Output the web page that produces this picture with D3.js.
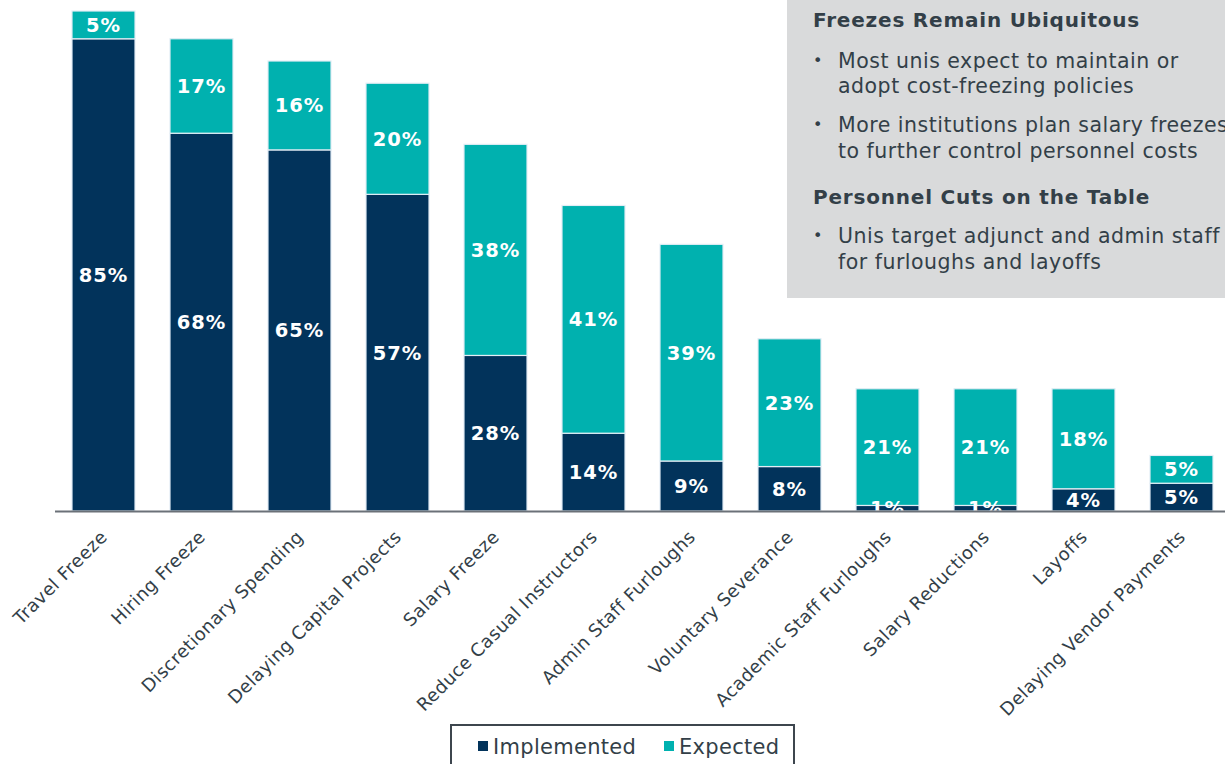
<!DOCTYPE html>
<html lang="en">
<head>
    <meta charset="UTF-8" />
    <title>Cost Cutting Measures</title>
    <style>
        html, body { margin: 0; padding: 0; background: #fff; }
        svg { display: block; font-family: "DejaVu Sans", Verdana, sans-serif; }
    </style>
</head>
<body>
    <div id="container"></div>
</body>
<script src="https://cdnjs.cloudflare.com/ajax/libs/d3/7.8.5/d3.min.js"></script>
<script>
    // data
    let categories = ["Travel Freeze", "Hiring Freeze", "Discretionary Spending", "Delaying Capital Projects",
        "Salary Freeze", "Reduce Casual Instructors", "Admin Staff Furloughs", "Voluntary Severance",
        "Academic Staff Furloughs", "Salary Reductions", "Layoffs", "Delaying Vendor Payments"],
        implemented = [85, 68, 65, 57, 28, 14, 9, 8, 1, 1, 4, 5],
        expected = [5, 17, 16, 20, 38, 41, 39, 23, 21, 21, 18, 5],
        seriesNames = ["Implemented", "Expected"];

    let W = 1225, H = 764,
        base = 511,
        navy = "#02335b", teal = "#00b1af", ink = "#333f48";

    let svg = d3.select("#container").append("svg").attr("width", W).attr("height", H)

    let x = d3.scaleBand().domain(categories).range([54.5, 54.5 + 98 * 12])
        .paddingInner(0.357).paddingOuter(0.1785)
    let y = d3.scaleLinear().domain([0, 90]).range([base, 11])

    let rows = categories.map((c, i) => ({ cat: c, Implemented: implemented[i], Expected: expected[i] }))
    let stack = d3.stack().keys(seriesNames)(rows)
    let color = d3.scaleOrdinal().domain(seriesNames).range([navy, teal])

    // clip so the tiny 1% labels are cut at the axis
    svg.append("clipPath").attr("id", "plot").append("rect")
        .attr("x", 0).attr("y", 0).attr("width", W).attr("height", base)

    let layer = svg.append("g").selectAll("g").data(stack).enter().append("g")
        .attr("fill", d => color(d.key))

    layer.selectAll("rect").data(d => d).enter().append("rect")
        .attr("x", d => x(d.data.cat))
        .attr("y", d => y(d[1]))
        .attr("width", x.bandwidth())
        .attr("height", d => y(d[0]) - y(d[1]))
        .attr("stroke", "#e3edf5").attr("stroke-width", 1.2)

    let labels = svg.append("g").attr("clip-path", "url(#plot)")
    stack.forEach(s => {
        labels.selectAll(null).data(s).enter().append("text")
            .attr("x", d => x(d.data.cat) + x.bandwidth() / 2)
            .attr("y", d => (y(d[0]) + y(d[1])) / 2)
            .attr("dy", "0.36em")
            .attr("text-anchor", "middle")
            .attr("fill", "#fff").attr("font-weight", "bold").attr("font-size", 19.5)
            .attr("letter-spacing", 1)
            .text(d => (d[1] - d[0]) + "%")
    })

    // axis
    let axis = svg.append("g").attr("transform", `translate(0,${base})`)
        .call(d3.axisBottom(x).tickSize(0).tickPadding(0))
    axis.select(".domain").attr("d", `M55,0.5H${W}`).attr("stroke", "#6b7178").attr("stroke-width", 2)
    axis.selectAll(".tick text")
        .attr("font-family", "DejaVu Sans, Verdana, sans-serif")
        .attr("font-size", 18).attr("fill", ink)
        .attr("letter-spacing", 0.45)
        .attr("text-anchor", "end")
        .attr("dy", 0)
        .attr("transform", "translate(5,27) rotate(-45)")

    // commentary box (text runs past the right edge, as in the source)
    let box = svg.append("g")
    box.append("rect").attr("x", 787).attr("y", 0).attr("width", W - 787).attr("height", 298).attr("fill", "#d9dadb")
    let notes = [
        { t: "Freezes Remain Ubiquitous", y: 27, head: true },
        { t: "Most unis expect to maintain or", y: 68, bullet: true },
        { t: "adopt cost-freezing policies", y: 93 },
        { t: "More institutions plan salary freezes", y: 132, bullet: true },
        { t: "to further control personnel costs", y: 158 },
        { t: "Personnel Cuts on the Table", y: 204, head: true },
        { t: "Unis target adjunct and admin staff", y: 243, bullet: true },
        { t: "for furloughs and layoffs", y: 269 }
    ]
    notes.forEach(n => {
        box.append("text").attr("x", n.head ? 813 : 838).attr("y", n.y)
            .attr("font-size", n.head ? 20 : 20.5).attr("font-weight", n.head ? "bold" : "normal")
            .attr("letter-spacing", n.head ? 0.8 : 0.5)
            .attr("fill", ink).text(n.t)
        if (n.bullet) box.append("text").attr("x", 813).attr("y", n.y - 2).attr("font-size", 16).attr("fill", ink).text("•")
    })

    // legend
    let lg = svg.append("g")
    lg.append("rect").attr("x", 451).attr("y", 725).attr("width", 343).attr("height", 60)
        .attr("fill", "#fff").attr("stroke", "#3d464e").attr("stroke-width", 2)
    let lx = [478, 664]
    seriesNames.forEach((s, i) => {
        lg.append("rect").attr("x", lx[i]).attr("y", 741).attr("width", 10).attr("height", 10).attr("fill", color(s))
        lg.append("text").attr("x", lx[i] + 15).attr("y", 754).attr("font-size", 21)
            .attr("letter-spacing", 0.3).attr("fill", ink).text(s)
    })
</script>
</html>
